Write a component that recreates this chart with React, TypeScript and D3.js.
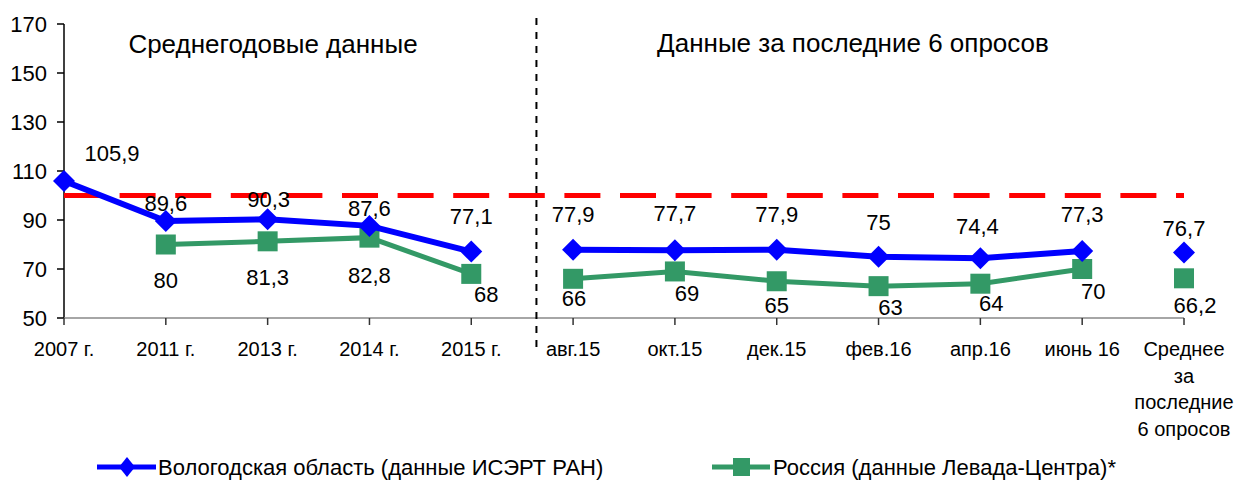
import React from 'react';
import * as d3 from 'd3';

// categories along the x axis
const categories = [
    "2007 г.", "2011 г.", "2013 г.", "2014 г.", "2015 г.",
    "авг.15", "окт.15", "дек.15", "фев.16", "апр.16", "июнь 16", "avg",
];
const avgLabel = ["Среднее", "за", "последние", "6 опросов"];

// segments: yearly, last 6 surveys, average (lines break between them)
const segments = [[0, 4], [5, 10], [11, 11]];

const vologda = [105.9, 89.6, 90.3, 87.6, 77.1, 77.9, 77.7, 77.9, 75, 74.4, 77.3, 76.7];
const russia: (number | null)[] = [null, 80, 81.3, 82.8, 68, 66, 69, 65, 63, 64, 70, 66.2];

const yTicks = [50, 70, 90, 110, 130, 150, 170];
const reference = 100;

const seriesNames = ["Вологодская область (данные ИСЭРТ РАН)", "Россия (данные Левада-Центра)*"];
const sectionTitles = ["Среднегодовые данные", "Данные за последние 6 опросов"];

// label nudges [dx, dy] relative to the point
const blueLabelOffsets = [[48, -28], [0, -18], [1, -20], [0, -18], [0, -36], [0, -36], [0, -37], [0, -36], [0, -35], [-3, -32], [0, -37], [0, -25]];
const greenLabelOffsets = [[0, 0], [0, 36], [0, 36], [0, 37], [15, 20], [1, 19], [12, 22], [0, 24], [12, 21], [11, 19], [11, 22], [11, 27]];

const BLUE = "#0000ff";
const GREEN = "#339966";
const FONT = "'Liberation Sans', Arial, sans-serif";

const fmt = (v: number) => String(v).replace(".", ",");

const App = () => {
    const width = 1236;
    const height = 480;
    const left = 64, right = 1184, top = 24, bottom = 318;

    const x = d3.scalePoint<string>().domain(categories).range([left, right]).padding(0);
    const y = d3.scaleLinear().domain([50, 170]).range([bottom, top]);
    const step = x.step();
    const sepX = (x(categories[4]) as number) + step * 0.64;

    const segPath = (vals: (number | null)[], s: number[]) => {
        const idx = d3.range(s[0], s[1] + 1).filter(i => vals[i] != null);
        return d3.line<number>()
            .x(i => x(categories[i]) as number)
            .y(i => y(vals[i] as number))(idx) || "";
    };

    const diamond = (cx: number, cy: number, rx: number, ry: number = rx) =>
        `M${cx},${cy - ry}L${cx + rx},${cy}L${cx},${cy + ry}L${cx - rx},${cy}Z`;

    return (
        <svg width={width} height={height} style={{position: "absolute", left: 0, top: 0, background: "white"}}
             fontFamily={FONT}>
            {/* y axis */}
            <line x1={left} x2={left} y1={top} y2={bottom} stroke="black" strokeWidth={1.5}/>
            {yTicks.map(t => (
                <g key={t}>
                    <line x1={left - 7} x2={left} y1={y(t)} y2={y(t)} stroke="black" strokeWidth={1.5}/>
                    <text x={left - 17} y={y(t)} dy="0.36em" textAnchor="end" fontSize={22}>{t}</text>
                </g>
            ))}
            {/* x axis */}
            <line x1={left} x2={right} y1={bottom} y2={bottom} stroke="#888" strokeWidth={1.5}/>
            {categories.map((c, i) => (
                <g key={c}>
                    <line x1={x(c)} x2={x(c)} y1={bottom} y2={bottom + 7} stroke="#333" strokeWidth={1.5}/>
                    {c === "avg"
                        ? avgLabel.map((l, j) => (
                            <text key={l} x={x(c)} y={bottom + 38 + j * 26.5} textAnchor="middle" fontSize={20}>{l}</text>
                        ))
                        : <text x={x(c)} y={bottom + 38} textAnchor="middle" fontSize={20}>{c}</text>}
                </g>
            ))}

            {/* section titles */}
            <text x={273} y={top + 29} textAnchor="middle" fontSize={26}>{sectionTitles[0]}</text>
            <text x={853} y={top + 28} textAnchor="middle" fontSize={26}>{sectionTitles[1]}</text>

            {/* separator */}
            <line x1={sepX} x2={sepX} y1={18} y2={348} stroke="black" strokeWidth={2} strokeDasharray="7,7"/>

            {/* reference */}
            <line x1={left} x2={right} y1={y(reference)} y2={y(reference)} stroke="#ff0000" strokeWidth={5}
                  strokeDasharray="36,19.6"/>

            {/* green series */}
            {segments.map((s, k) => (
                <path key={k} d={segPath(russia, s)} fill="none" stroke={GREEN} strokeWidth={5}/>
            ))}
            {russia.map((v, i) => v == null ? null : (
                <rect key={i} x={(x(categories[i]) as number) - 10} y={y(v) - 10} width={20} height={20} fill={GREEN}/>
            ))}

            {/* blue series */}
            {segments.map((s, k) => (
                <path key={k} d={segPath(vologda, s)} fill="none" stroke={BLUE} strokeWidth={6}/>
            ))}
            {vologda.map((v, i) => (
                <path key={i} d={diamond(x(categories[i]) as number, y(v), 11)} fill={BLUE}/>
            ))}

            {/* data labels */}
            {vologda.map((v, i) => (
                <text key={i} x={(x(categories[i]) as number) + blueLabelOffsets[i][0]} y={y(v) + blueLabelOffsets[i][1]}
                      dy="0.36em" textAnchor="middle" fontSize={22}>{fmt(v)}</text>
            ))}
            {russia.map((v, i) => v == null ? null : (
                <text key={i} x={(x(categories[i]) as number) + greenLabelOffsets[i][0]} y={y(v) + greenLabelOffsets[i][1]}
                      dy="0.36em" textAnchor="middle" fontSize={22}>{fmt(v)}</text>
            ))}

            {/* legend */}
            <g transform="translate(97,467)">
                <line x1={0} x2={59} y1={0} y2={0} stroke={BLUE} strokeWidth={5}/>
                <path d={diamond(30, 0, 8, 10)} fill={BLUE}/>
                <text x={61} y={0} dy="0.36em" fontSize={22}>{seriesNames[0]}</text>
            </g>
            <g transform="translate(712,467)">
                <line x1={0} x2={58} y1={0} y2={0} stroke={GREEN} strokeWidth={5}/>
                <rect x={21} y={-9} width={17} height={18} fill={GREEN}/>
                <text x={61} y={0} dy="0.36em" fontSize={22}>{seriesNames[1]}</text>
            </g>
        </svg>
    );
};

export default App;
